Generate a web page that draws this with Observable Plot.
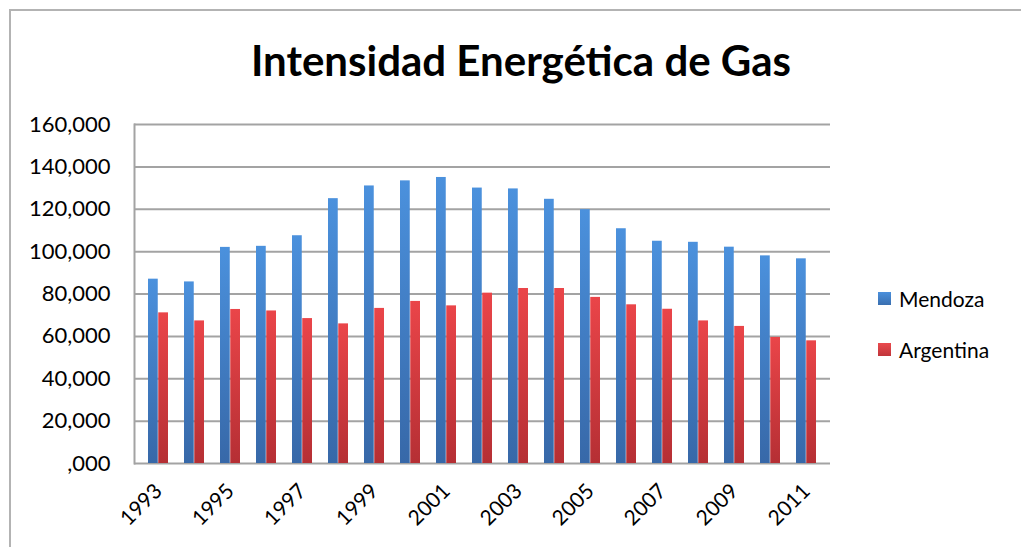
<!DOCTYPE html>
<html>
<head>
<meta charset="utf-8">
<script src="https://cdn.jsdelivr.net/npm/d3@7"></script>
<script src="https://cdn.jsdelivr.net/npm/@observablehq/plot@0.6"></script>
<style>
  html, body { margin: 0; padding: 0; background: #fff; }
  #wrap { position: relative; width: 1021px; height: 547px; overflow: hidden; font-family: Lato, "Open Sans", sans-serif; }
  #border { position: absolute; left: 9px; top: 9px; width: 1100px; height: 600px; border-left: 2px solid #b3b3b3; border-top: 2px solid #b3b3b3; }
  #title { position: absolute; left: 0; width: 1042px; top: 35px; text-align: center; font-size: 42px; font-weight: 700; color: #000; }
  #chart { position: absolute; left: 0; top: 100px; }
  .leg { position: absolute; left: 878px; font-size: 21px; color: #000; display: flex; align-items: center; }
  .sw { width: 13px; height: 13px; margin-right: 8px; }
</style>
</head>
<body>
<div id="wrap">
  <div id="border"></div>
  <div id="title">Intensidad Energética de Gas</div>
  <div id="chart"></div>
  <div class="leg" style="top:286px"><div class="sw" style="background:linear-gradient(#4b90dc,#3a6fb0)"></div>Mendoza</div>
  <div class="leg" style="top:337px"><div class="sw" style="background:linear-gradient(#ea4a4e,#c0353a)"></div>Argentina</div>
</div>
<script>
const years = [1993, 1994, 1995, 1996, 1997, 1998, 1999, 2000, 2001, 2002, 2003, 2004, 2005, 2006, 2007, 2008, 2009, 2010, 2011];
const mendoza = [87000, 85700, 102000, 102500, 107500, 125000, 131000, 133400, 135000, 130000, 129600, 124700, 119800, 110800, 104900, 104400, 102100, 98000, 96600];
const argentina = [71100, 67300, 72700, 72000, 68400, 65900, 73200, 76500, 74400, 80400, 82600, 82600, 78400, 74900, 72800, 67300, 64700, 59500, 57900];
const yTicks = [0, 20000, 40000, 60000, 80000, 100000, 120000, 140000, 160000];
const xTickLabels = [1993, 1995, 1997, 1999, 2001, 2003, 2005, 2007, 2009, 2011];
const seriesNames = ["Mendoza", "Argentina"];

const dataM = years.map((yr, i) => ({year: yr, value: mendoza[i], series: seriesNames[0]}));
const dataA = years.map((yr, i) => ({year: yr, value: argentina[i], series: seriesNames[1]}));

const fmt = d3.format(",");
const plot = Plot.plot({
  width: 1021,
  height: 447,
  marginLeft: 134,
  marginRight: 191,
  marginTop: 24,
  marginBottom: 84,
  style: {fontFamily: "Lato, 'Open Sans', sans-serif", fontSize: "20px", color: "#000", background: "transparent"},
  x: {type: "band", domain: years, paddingInner: 0.44, paddingOuter: 0.22, label: null},
  y: {domain: [0, 160000], label: null},
  marks: [
    Plot.gridY(yTicks, {stroke: "#a3a3a3", strokeOpacity: 1, strokeWidth: 2}),
    Plot.frame({anchor: "left", stroke: "#a3a3a3", strokeWidth: 2}),
    Plot.barY(dataM, {x: "year", y: "value", fill: "url(#gBlue)", insetRight: 10.25, insetLeft: 0}),
    Plot.barY(dataA, {x: "year", y: "value", fill: "url(#gRed)", insetLeft: 10.25, insetRight: 0}),
    Plot.axisY(yTicks, {tickSize: 0, tickPadding: 24, tickFormat: d => d === 0 ? ",000" : fmt(d), fontSize: 22}),
    Plot.axisX(xTickLabels, {tickSize: 0, tickPadding: 24, tickRotate: -45, tickFormat: d => String(d), fontSize: 21})
  ]
});
plot.insertAdjacentHTML("afterbegin",
  `<defs>
    <linearGradient id="gBlue" x1="0" y1="0" x2="0" y2="1">
      <stop offset="0" stop-color="#4b91dd"/><stop offset="1" stop-color="#3768a8"/>
    </linearGradient>
    <linearGradient id="gRed" x1="0" y1="0" x2="0" y2="1">
      <stop offset="0" stop-color="#ea4549"/><stop offset="1" stop-color="#b52f34"/>
    </linearGradient>
  </defs>`);
document.getElementById("chart").appendChild(plot);
</script>
</body>
</html>
